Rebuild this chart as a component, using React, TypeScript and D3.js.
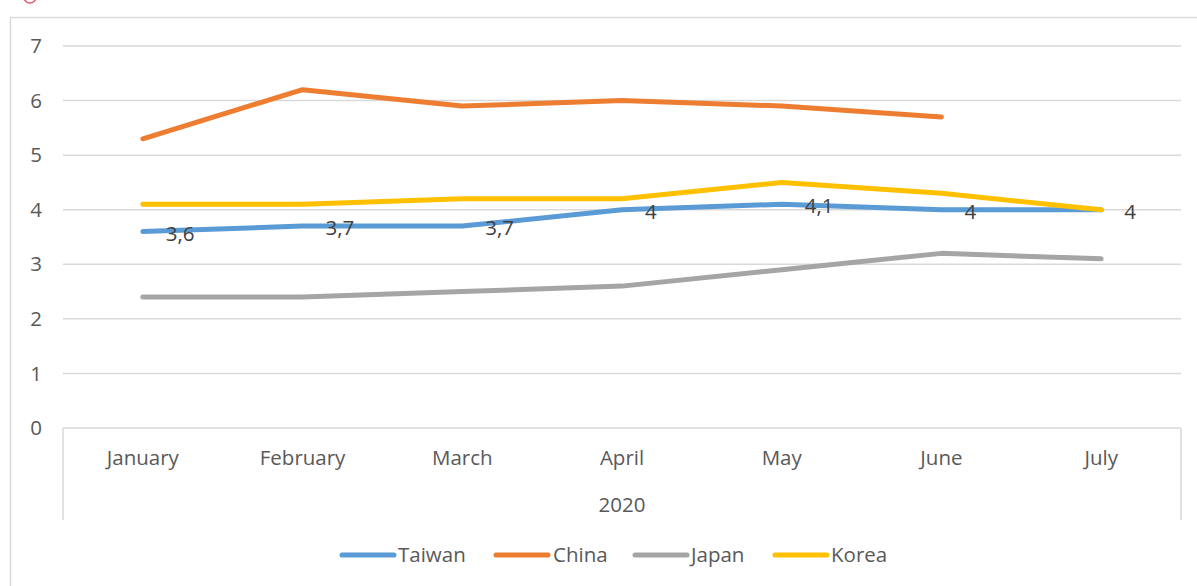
import { useEffect, useRef } from "react";
import * as d3 from "d3";

const months = ["January", "February", "March", "April", "May", "June", "July"];
const yearLabel = "2020";
const taiwan = [3.6, 3.7, 3.7, 4, 4.1, 4, 4];
const china: (number | null)[] = [5.3, 6.2, 5.9, 6.0, 5.9, 5.7, null];
const japan = [2.4, 2.4, 2.5, 2.6, 2.9, 3.2, 3.1];
const korea = [4.1, 4.1, 4.2, 4.2, 4.5, 4.3, 4.0];
const yTicks = [0, 1, 2, 3, 4, 5, 6, 7];

const series = [
  { name: "Taiwan", color: "#5B9BD5", values: taiwan as (number | null)[] },
  { name: "China", color: "#ED7D31", values: china },
  { name: "Japan", color: "#A5A5A5", values: japan as (number | null)[] },
  { name: "Korea", color: "#FFC000", values: korea as (number | null)[] },
];

const FONT = "'Open Sans', 'Noto Sans', sans-serif";
const FS = "20.5px";

function App() {
  const svgRef = useRef<SVGSVGElement>(null);

  useEffect(() => {
    if (!svgRef.current) return;
    const svg = d3.select(svgRef.current);
    svg.selectAll("*").remove();

    const width = 1197;
    const height = 586;
    const plot = { left: 63, right: 1181, top: 46, bottom: 428 };

    svg.attr("width", width).attr("height", height);

    // outer chart frame
    svg
      .append("rect")
      .attr("x", 10.5)
      .attr("y", 17.5)
      .attr("width", 1300)
      .attr("height", 700)
      .attr("fill", "#fff")
      .attr("stroke", "#D9D9D9")
      .attr("stroke-width", 1.5);

    // cut-off icon from above
    svg
      .append("circle")
      .attr("cx", 30)
      .attr("cy", -3)
      .attr("r", 6)
      .attr("fill", "none")
      .attr("stroke", "#E8546F")
      .attr("stroke-width", 1.5);

    const x = d3
      .scaleBand()
      .domain(months)
      .range([plot.left, plot.right]);
    const y = d3.scaleLinear().domain([0, 7]).range([plot.bottom, plot.top]);
    const cx = (m: string) => (x(m) || 0) + x.bandwidth() / 2;

    // gridlines
    svg
      .append("g")
      .selectAll("line")
      .data(yTicks.filter((t) => t > 0))
      .enter()
      .append("line")
      .attr("x1", plot.left)
      .attr("x2", plot.right)
      .attr("y1", (d) => y(d))
      .attr("y2", (d) => y(d))
      .attr("stroke", "#D9D9D9")
      .attr("stroke-width", 1.5);

    // y labels
    svg
      .append("g")
      .selectAll("text")
      .data(yTicks)
      .enter()
      .append("text")
      .attr("x", 42)
      .attr("y", (d) => y(d))
      .attr("dy", "0.35em")
      .attr("text-anchor", "end")
      .attr("fill", "#595959")
      .style("font-family", FONT)
      .style("font-size", FS)
      .text((d) => d);

    // category box (multi-level axis)
    const axisG = svg.append("g").attr("stroke", "#D9D9D9").attr("stroke-width", 1.5);
    axisG
      .append("line")
      .attr("x1", plot.left)
      .attr("x2", plot.right)
      .attr("y1", plot.bottom)
      .attr("y2", plot.bottom);
    [plot.left, plot.right].forEach((xx) => {
      axisG
        .append("line")
        .attr("x1", xx)
        .attr("x2", xx)
        .attr("y1", plot.bottom)
        .attr("y2", 520);
    });

    svg
      .append("g")
      .selectAll("text")
      .data(months)
      .enter()
      .append("text")
      .attr("x", (d) => cx(d))
      .attr("y", 458)
      .attr("dy", "0.35em")
      .attr("text-anchor", "middle")
      .attr("fill", "#595959")
      .style("font-family", FONT)
      .style("font-size", FS)
      .text((d) => d);

    svg
      .append("text")
      .attr("x", (plot.left + plot.right) / 2)
      .attr("y", 505)
      .attr("dy", "0.35em")
      .attr("text-anchor", "middle")
      .attr("fill", "#595959")
      .style("font-family", FONT)
      .style("font-size", FS)
      .text(yearLabel);

    // lines
    const line = d3
      .line<number | null>()
      .defined((d) => d !== null)
      .x((_, i) => cx(months[i]))
      .y((d) => y(d as number));

    series.forEach((s) => {
      svg
        .append("path")
        .datum(s.values)
        .attr("d", line)
        .attr("fill", "none")
        .attr("stroke", s.color)
        .attr("stroke-width", 5)
        .attr("stroke-linecap", "round")
        .attr("stroke-linejoin", "round");
    });

    // data labels for Taiwan
    svg
      .append("g")
      .selectAll("text")
      .data(taiwan)
      .enter()
      .append("text")
      .attr("x", (_, i) => cx(months[i]) + 23)
      .attr("y", (d) => y(d) + 2)
      .attr("dy", "0.35em")
      .attr("fill", "#404040")
      .style("font-family", FONT)
      .style("font-size", FS)
      .text((d) => String(d).replace(".", ","));

    // legend
    const legendItems = [
      { x: 340, tx: 398 },
      { x: 494, tx: 553 },
      { x: 633, tx: 691 },
      { x: 773, tx: 831 },
    ];
    const lg = svg.append("g");
    series.forEach((s, i) => {
      const it = legendItems[i];
      lg.append("line")
        .attr("x1", it.x + 2)
        .attr("x2", it.x + 54)
        .attr("y1", 555)
        .attr("y2", 555)
        .attr("stroke", s.color)
        .attr("stroke-width", 5)
        .attr("stroke-linecap", "round");
      lg.append("text")
        .attr("x", it.tx)
        .attr("y", 555)
        .attr("dy", "0.35em")
        .attr("fill", "#595959")
        .style("font-family", FONT)
        .style("font-size", FS)
        .text(s.name);
    });
  }, []);

  return (
    <div style={{ position: "fixed", left: 0, top: 0, width: 1197, height: 586, background: "#fff" }}>
      <svg ref={svgRef} style={{ display: "block" }}></svg>
    </div>
  );
}

export default App;
